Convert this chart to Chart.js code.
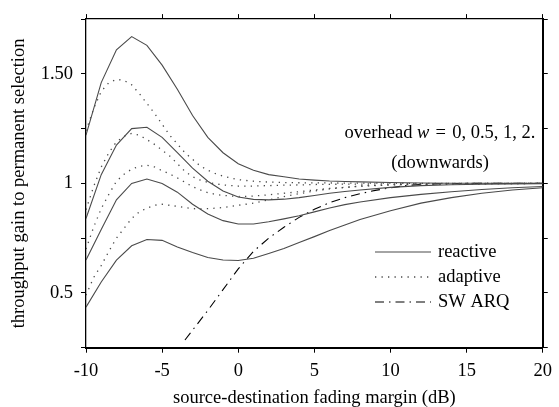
<!DOCTYPE html>
<html>
<head>
<meta charset="utf-8">
<script src="https://cdn.jsdelivr.net/npm/chart.js@4.4.1/dist/chart.umd.min.js"></script>
<style>
  body { margin: 0; background: #fff; }
</style>
</head>
<body>
<canvas id="myChart" width="559" height="407"></canvas>
<script>
// x positions (dB)
const xReactive = [-10, -9, -8, -7, -6, -5, -4, -3, -2, -1, 0, 1, 2, 3, 4, 5, 6, 7, 8, 10, 12, 14, 16, 18, 20];
const xAdaptive = [-10, -9.5, -9, -8.5, -8, -7.5, -7, -6.5, -6, -5.5, -5, -4.5, -4, -3.5, -3, -2.5, -2, -1.5, -1, 0, 1, 2, 3, 4, 5, 6, 8, 10, 12, 15, 20];
const xArq = [-3.5, -3, -2, -1, 0, 1, 2, 3, 4, 5, 6, 7, 8, 9, 10, 11, 12, 13, 15, 20];

// reactive, overhead w = 0, 0.5, 1, 2
const reactiveW0 = [1.22, 1.46, 1.61, 1.67, 1.63, 1.54, 1.43, 1.31, 1.21, 1.14, 1.09, 1.06, 1.04, 1.03, 1.02, 1.015, 1.011, 1.009, 1.007, 1.004, 1.002, 1.001, 1.001, 1.0, 1.0];
const reactiveW05 = [0.84, 1.04, 1.175, 1.25, 1.256, 1.21, 1.14, 1.07, 1.01, 0.965, 0.938, 0.927, 0.925, 0.928, 0.935, 0.945, 0.955, 0.963, 0.97, 0.982, 0.99, 0.994, 0.996, 0.998, 0.999];
const reactiveW1 = [0.65, 0.79, 0.925, 1.0, 1.02, 1.0, 0.96, 0.905, 0.86, 0.83, 0.815, 0.815, 0.825, 0.838, 0.852, 0.87, 0.888, 0.903, 0.915, 0.935, 0.95, 0.962, 0.972, 0.98, 0.986];
const reactiveW2 = [0.435, 0.55, 0.65, 0.715, 0.744, 0.74, 0.71, 0.685, 0.662, 0.65, 0.648, 0.658, 0.68, 0.703, 0.73, 0.757, 0.785, 0.81, 0.835, 0.875, 0.91, 0.935, 0.955, 0.97, 0.98];

// adaptive, overhead w = 0, 0.5, 1, 2
const adaptiveW0 = [1.24, 1.34, 1.42, 1.46, 1.475, 1.47, 1.45, 1.41, 1.365, 1.32, 1.27, 1.22, 1.18, 1.14, 1.11, 1.08, 1.06, 1.045, 1.033, 1.017, 1.01, 1.006, 1.004, 1.003, 1.002, 1.002, 1.001, 1.001, 1.0, 1.0, 1.0];
const adaptiveW05 = [0.88, 0.985, 1.075, 1.14, 1.19, 1.215, 1.228, 1.22, 1.2, 1.178, 1.152, 1.125, 1.09, 1.055, 1.03, 1.015, 1.005, 0.998, 0.993, 0.988, 0.988, 0.99, 0.992, 0.993, 0.995, 0.996, 0.997, 0.998, 0.999, 1.0, 1.0];
const adaptiveW1 = [0.70, 0.80, 0.885, 0.95, 1.01, 1.042, 1.065, 1.078, 1.083, 1.075, 1.058, 1.043, 1.025, 1.005, 0.985, 0.97, 0.958, 0.95, 0.945, 0.94, 0.942, 0.948, 0.955, 0.962, 0.97, 0.977, 0.987, 0.993, 0.996, 0.998, 1.0];
const adaptiveW2 = [0.49, 0.57, 0.625, 0.69, 0.75, 0.795, 0.84, 0.87, 0.887, 0.9, 0.905, 0.9, 0.895, 0.89, 0.885, 0.883, 0.885, 0.887, 0.89, 0.9, 0.91, 0.925, 0.94, 0.953, 0.965, 0.975, 0.988, 0.994, 0.997, 0.998, 1.0];

// stop-and-wait ARQ
const swArq = [0.285, 0.33, 0.42, 0.515, 0.61, 0.69, 0.75, 0.8, 0.845, 0.882, 0.912, 0.935, 0.953, 0.968, 0.98, 0.99, 0.995, 0.998, 1.0, 1.0];

// axis labels
const yLabelValues = [0.5, 1, 1.5];
const yLabelTexts = ['0.5', '1', '1.50'];
const legendNames = ['reactive', 'adaptive', 'SW ARQ'];

const FONT = "'Liberation Serif', 'Times New Roman', serif";
const FS = 18.5;
const GREY = '#4a4a4a';

function series(xs, ys) {
  return xs.map((x, i) => ({ x: x, y: ys[i] }));
}

function reactive(ys) {
  return { data: series(xReactive, ys), borderColor: GREY, borderWidth: 1.1, pointRadius: 0, tension: 0, fill: false };
}
function adaptive(ys) {
  return { data: series(xAdaptive, ys), borderColor: GREY, borderWidth: 1.3, borderDash: [1.3, 5.2], pointRadius: 0, tension: 0, fill: false };
}

const datasets = [
  reactive(reactiveW0), reactive(reactiveW05), reactive(reactiveW1), reactive(reactiveW2),
  adaptive(adaptiveW0), adaptive(adaptiveW05), adaptive(adaptiveW1), adaptive(adaptiveW2),
  { data: series(xArq, swArq), borderColor: '#000', borderWidth: 1.1, borderDash: [9, 5, 1.5, 5], pointRadius: 0, tension: 0, fill: false }
];

// legend + overhead note drawn inside the plot
const notes = {
  id: 'notes',
  afterDatasetsDraw(chart) {
    const ctx = chart.ctx;
    const ds = chart.data.datasets;
    ctx.save();
    ctx.fillStyle = '#000';
    ctx.textBaseline = 'middle';

    // overhead w = 0, 0.5, 1, 2.  (math spacing around "=")
    const parts = [['overhead ', ''], ['w', 'italic '], ['\u2004=\u20040, 0.5, 1, 2.', '']];
    let total = 0;
    parts.forEach(p => { ctx.font = p[1] + FS + 'px ' + FONT; total += ctx.measureText(p[0]).width; });
    let x = 440 - total / 2;
    parts.forEach(p => {
      ctx.font = p[1] + FS + 'px ' + FONT;
      ctx.textAlign = 'left';
      ctx.fillText(p[0], x, 133);
      x += ctx.measureText(p[0]).width;
    });
    ctx.font = FS + 'px ' + FONT;
    ctx.textAlign = 'center';
    ctx.fillText('(downwards)', 440, 163);

    // legend
    const rows = [ds[0], ds[4], ds[8]];
    const ys = [252, 277, 302];
    rows.forEach((d, i) => {
      ctx.beginPath();
      ctx.strokeStyle = d.borderColor;
      ctx.lineWidth = d.borderWidth;
      ctx.setLineDash(d.borderDash || []);
      ctx.moveTo(375, ys[i]);
      ctx.lineTo(431, ys[i]);
      ctx.stroke();
      ctx.setLineDash([]);
      ctx.textAlign = 'left';
      ctx.fillText(legendNames[i], 438, ys[i]);
    });
    ctx.restore();
  }
};

const axisGrid = { drawOnChartArea: false, tickLength: 5, color: '#000', tickColor: '#000', lineWidth: 1 };

new Chart(document.getElementById('myChart').getContext('2d'), {
  type: 'line',
  data: { datasets: datasets },
  options: {
    responsive: false,
    animation: false,
    layout: { padding: 0 },
    plugins: { legend: { display: false }, tooltip: { enabled: false } },
    scales: {
      x: {
        type: 'linear', position: 'bottom', min: -10, max: 20,
        ticks: { stepSize: 5, color: '#000', font: { family: FONT, size: FS }, padding: 7, maxRotation: 0 },
        grid: axisGrid,
        border: { color: '#000', width: 2 },
        title: { display: true, text: 'source-destination fading margin (dB)', color: '#000', font: { family: FONT, size: FS }, padding: { top: 0, bottom: -2 } },
        afterFit: s => { s.height = 59.3; }
      },
      x2: {
        type: 'linear', position: 'top', min: -10, max: 20,
        ticks: { stepSize: 5, display: false },
        grid: axisGrid,
        border: { color: '#000', width: 1.3 },
        afterFit: s => { s.height = 15; }
      },
      y: {
        type: 'linear', position: 'left', min: 0.25, max: 1.75,
        ticks: {
          stepSize: 0.25, color: '#000', font: { family: FONT, size: FS }, padding: 8,
          callback: v => {
            const i = yLabelValues.findIndex(t => Math.abs(t - v) < 1e-6);
            return i >= 0 ? yLabelTexts[i] : '';
          }
        },
        grid: axisGrid,
        border: { color: '#000', width: 1.3 },
        title: { display: true, text: 'throughput gain to permanent selection', color: '#000', font: { family: FONT, size: FS }, padding: { top: 8, bottom: 0 } },
        afterFit: s => { s.width = 86; }
      },
      y2: {
        type: 'linear', position: 'right', min: 0.25, max: 1.75,
        ticks: { stepSize: 0.25, display: false },
        grid: axisGrid,
        border: { color: '#000', width: 2 },
        afterFit: s => { s.width = 10; }
      }
    }
  },
  plugins: [notes]
});
</script>
</body>
</html>
